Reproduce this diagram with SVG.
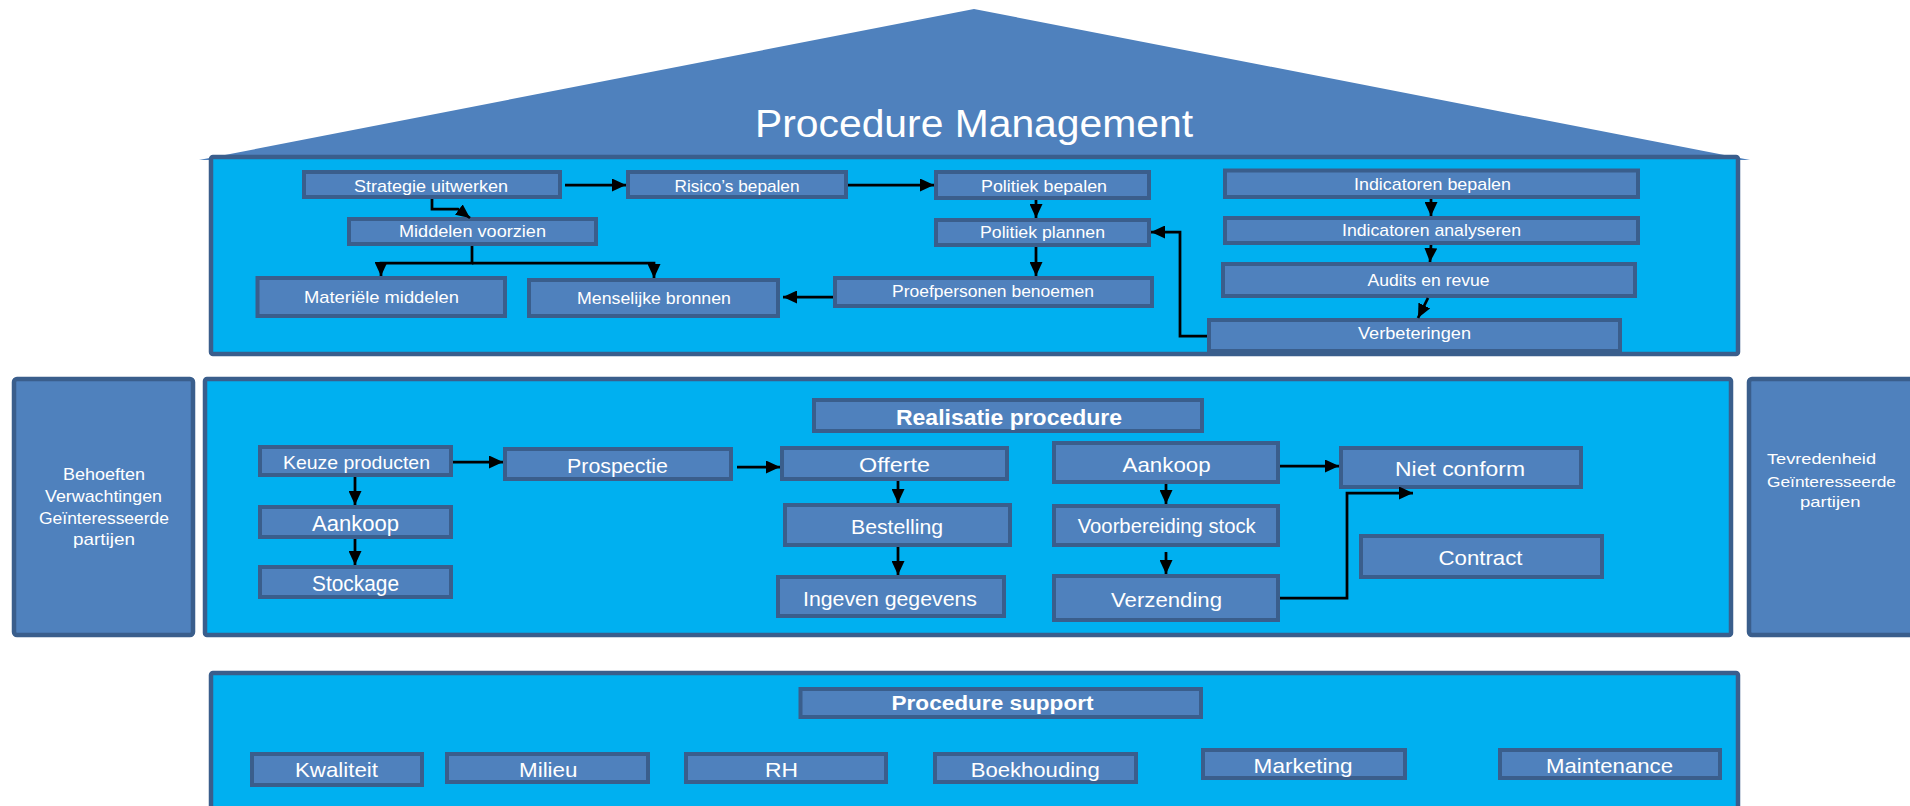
<svg xmlns="http://www.w3.org/2000/svg" width="1910" height="806" viewBox="0 0 1910 806">
<style>
.cont{fill:#00B0F0;stroke:#3A5E8C;stroke-width:4.5}
.side{fill:#4F81BD;stroke:#3A5E8C;stroke-width:4.5}
.n{fill:#4F81BD;stroke:#3A5E8C;stroke-width:4}
text{font-family:"Liberation Sans",Arial,sans-serif;fill:#FFFFFF}
.t17{font-size:17px}
.t21{font-size:21px}
.b{font-weight:bold}
.c{fill:none;stroke:#000;stroke-width:2.75}
</style>
<defs>
<marker id="ah" markerUnits="userSpaceOnUse" markerWidth="14" markerHeight="13" refX="14" refY="6.5" orient="auto"><path d="M0,0 L14,6.5 L0,13 z" fill="#000"/></marker>
</defs>
<rect width="1910" height="806" fill="#FFFFFF"/>
<g id="roof">
<polygon points="199,160 974,9 1750,160" fill="#4F81BD"/>
</g>
<g id="management">
<rect class="cont" x="211" y="157" width="1527" height="197" rx="2"/>
<text x="755" y="137" style="font-size:38px" textLength="438" lengthAdjust="spacingAndGlyphs">Procedure Management</text>
</g>
<g id="behoeften">
<rect class="side" x="14" y="379" width="179" height="256" rx="3"/>
<text class="t17" x="63" y="480" textLength="82" lengthAdjust="spacingAndGlyphs">Behoeften</text>
<text class="t17" x="45" y="501.7" textLength="117" lengthAdjust="spacingAndGlyphs">Verwachtingen</text>
<text class="t17" x="39" y="524" textLength="130" lengthAdjust="spacingAndGlyphs">Geïnteresseerde</text>
<text class="t17" x="73" y="545" textLength="62" lengthAdjust="spacingAndGlyphs">partijen</text>
</g>
<g id="realisatie">
<rect class="cont" x="205" y="379" width="1526" height="256" rx="2"/>
</g>
<g id="tevredenheid">
<rect class="side" x="1749" y="379" width="170" height="256" rx="3"/>
<text x="1767" y="464" style="font-size:15.5px" textLength="109" lengthAdjust="spacingAndGlyphs">Tevredenheid</text>
<text x="1767" y="487" style="font-size:15.5px" textLength="129" lengthAdjust="spacingAndGlyphs">Geïnteresseerde</text>
<text x="1800" y="507" style="font-size:15.5px" textLength="60.5" lengthAdjust="spacingAndGlyphs">partijen</text>
</g>
<g id="support">
<rect class="cont" x="211" y="673" width="1527" height="150" rx="2"/>
</g>

<g id="strategie"><rect class="n" x="304" y="172" width="256" height="25"/><text class="t17" x="354" y="191.5" textLength="154" lengthAdjust="spacingAndGlyphs">Strategie uitwerken</text></g>
<g id="risico"><rect class="n" x="628" y="172" width="218" height="25"/><text class="t17" x="674.5" y="191.5" textLength="125" lengthAdjust="spacingAndGlyphs">Risico’s bepalen</text></g>
<g id="politiek-bepalen"><rect class="n" x="936" y="172" width="213" height="26"/><text class="t17" x="981" y="191.7" textLength="126" lengthAdjust="spacingAndGlyphs">Politiek bepalen</text></g>
<g id="indicatoren-bepalen"><rect class="n" x="1225" y="170.5" width="413" height="26.5"/><text class="t17" x="1354" y="190" textLength="157" lengthAdjust="spacingAndGlyphs">Indicatoren bepalen</text></g>
<g id="middelen"><rect class="n" x="349" y="219" width="247" height="25"/><text class="t17" x="399" y="237" textLength="147" lengthAdjust="spacingAndGlyphs">Middelen voorzien</text></g>
<g id="politiek-plannen"><rect class="n" x="936" y="220" width="213" height="25"/><text class="t17" x="980" y="238" textLength="125" lengthAdjust="spacingAndGlyphs">Politiek plannen</text></g>
<g id="indicatoren-analyseren"><rect class="n" x="1225" y="218" width="413" height="25"/><text class="t17" x="1342" y="236" textLength="179" lengthAdjust="spacingAndGlyphs">Indicatoren analyseren</text></g>
<g id="materiele"><rect class="n" x="257.5" y="278" width="247.5" height="38"/><text class="t17" x="304" y="302.7" textLength="155" lengthAdjust="spacingAndGlyphs">Materiële middelen</text></g>
<g id="menselijke"><rect class="n" x="529" y="280" width="249" height="36"/><text class="t17" x="577" y="304" textLength="154" lengthAdjust="spacingAndGlyphs">Menselijke bronnen</text></g>
<g id="proefpersonen"><rect class="n" x="835" y="278" width="317" height="28"/><text class="t17" x="892" y="297" textLength="202" lengthAdjust="spacingAndGlyphs">Proefpersonen benoemen</text></g>
<g id="audits"><rect class="n" x="1223" y="264" width="412" height="32"/><text class="t17" x="1367.6" y="285.7" textLength="122" lengthAdjust="spacingAndGlyphs">Audits en revue</text></g>
<g id="verbeteringen"><rect class="n" x="1209" y="320" width="411" height="31"/><text class="t17" x="1358" y="339" textLength="113" lengthAdjust="spacingAndGlyphs">Verbeteringen</text></g>

<g id="realisatie-header"><rect class="n" x="814" y="400" width="388" height="31"/><text class="b" style="font-size:22px" x="896" y="425" textLength="226" lengthAdjust="spacingAndGlyphs">Realisatie procedure</text></g>
<g id="keuze"><rect class="n" x="260" y="447" width="191" height="28"/><text style="font-size:18.5px" x="283" y="469" textLength="147" lengthAdjust="spacingAndGlyphs">Keuze producten</text></g>
<g id="aankoop-l"><rect class="n" x="260" y="507" width="191" height="30"/><text style="font-size:22px" x="312" y="531" textLength="87" lengthAdjust="spacingAndGlyphs">Aankoop</text></g>
<g id="stockage"><rect class="n" x="260" y="567" width="191" height="30"/><text style="font-size:22px" x="312" y="591" textLength="87" lengthAdjust="spacingAndGlyphs">Stockage</text></g>
<g id="prospectie"><rect class="n" x="505" y="449" width="226" height="30"/><text class="t21" x="567" y="473" textLength="101" lengthAdjust="spacingAndGlyphs">Prospectie</text></g>
<g id="offerte"><rect class="n" x="782" y="448" width="225" height="31"/><text class="t21" x="859" y="472" textLength="71" lengthAdjust="spacingAndGlyphs">Offerte</text></g>
<g id="bestelling"><rect class="n" x="785" y="505" width="225" height="40"/><text class="t21" x="851" y="534" textLength="92" lengthAdjust="spacingAndGlyphs">Bestelling</text></g>
<g id="ingeven"><rect class="n" x="778" y="577" width="226" height="39"/><text class="t21" x="803" y="606" textLength="174" lengthAdjust="spacingAndGlyphs">Ingeven gegevens</text></g>
<g id="aankoop-r"><rect class="n" x="1054" y="443" width="224" height="39"/><text class="t21" x="1122.6" y="471.7" textLength="88" lengthAdjust="spacingAndGlyphs">Aankoop</text></g>
<g id="voorbereiding"><rect class="n" x="1054" y="506" width="224" height="39"/><text style="font-size:19.5px" x="1077.7" y="533" textLength="178" lengthAdjust="spacingAndGlyphs">Voorbereiding stock</text></g>
<g id="verzending"><rect class="n" x="1054" y="576" width="224" height="44"/><text style="font-size:20.5px" x="1111" y="607" textLength="111" lengthAdjust="spacingAndGlyphs">Verzending</text></g>
<g id="niet-conform"><rect class="n" x="1341" y="448" width="240" height="39"/><text class="t21" x="1395" y="476" textLength="130" lengthAdjust="spacingAndGlyphs">Niet conform</text></g>
<g id="contract"><rect class="n" x="1361" y="536" width="241" height="41"/><text class="t21" x="1438.5" y="565" textLength="84" lengthAdjust="spacingAndGlyphs">Contract</text></g>

<g id="support-header"><rect class="n" x="800.5" y="689" width="400.5" height="28"/><text class="b" style="font-size:20px" x="891.5" y="710" textLength="202" lengthAdjust="spacingAndGlyphs">Procedure support</text></g>
<g id="kwaliteit"><rect class="n" x="252" y="754" width="170" height="31"/><text class="t21" x="295" y="777" textLength="83" lengthAdjust="spacingAndGlyphs">Kwaliteit</text></g>
<g id="milieu"><rect class="n" x="447" y="754" width="201" height="28"/><text class="t21" x="519" y="777" textLength="58.5" lengthAdjust="spacingAndGlyphs">Milieu</text></g>
<g id="rh"><rect class="n" x="686" y="754" width="200" height="28"/><text class="t21" x="765" y="777" textLength="33" lengthAdjust="spacingAndGlyphs">RH</text></g>
<g id="boekhouding"><rect class="n" x="935" y="754" width="201" height="28"/><text class="t21" x="970.7" y="777" textLength="129" lengthAdjust="spacingAndGlyphs">Boekhouding</text></g>
<g id="marketing"><rect class="n" x="1203" y="750" width="202" height="28"/><text class="t21" x="1253.6" y="772.7" textLength="99" lengthAdjust="spacingAndGlyphs">Marketing</text></g>
<g id="maintenance"><rect class="n" x="1500" y="750" width="220" height="28"/><text class="t21" x="1546" y="772.7" textLength="127" lengthAdjust="spacingAndGlyphs">Maintenance</text></g>

<g id="connectors">
<path class="c" marker-end="url(#ah)" d="M565,185 H626"/>
<path class="c" marker-end="url(#ah)" d="M848,185 H934"/>
<path class="c" marker-end="url(#ah)" d="M1036,200 V218"/>
<path class="c" marker-end="url(#ah)" d="M1036,247 V276"/>
<path class="c" marker-end="url(#ah)" d="M833,297 H783"/>
<path class="c" marker-end="url(#ah)" d="M1207,336 H1180 V232 H1151"/>
<path class="c" marker-end="url(#ah)" d="M432,199 V209 H458 L470,218"/>
<path class="c" marker-end="url(#ah)" d="M472,246 V263 H381 V276"/>
<path class="c" marker-end="url(#ah)" d="M472,263 H654 V278"/>
<path class="c" marker-end="url(#ah)" d="M1431,199 V216"/>
<path class="c" marker-end="url(#ah)" d="M1431,245 L1430,262"/>
<path class="c" marker-end="url(#ah)" d="M1428,298 L1418,318"/>
<path class="c" marker-end="url(#ah)" d="M355,477 V505"/>
<path class="c" marker-end="url(#ah)" d="M355,539 V565"/>
<path class="c" marker-end="url(#ah)" d="M453,462 H503"/>
<path class="c" marker-end="url(#ah)" d="M737,467 H780"/>
<path class="c" marker-end="url(#ah)" d="M898,481 V503"/>
<path class="c" marker-end="url(#ah)" d="M898,547 V575"/>
<path class="c" marker-end="url(#ah)" d="M1280,466 H1339"/>
<path class="c" marker-end="url(#ah)" d="M1166,484 V504"/>
<path class="c" marker-end="url(#ah)" d="M1166,552 V574"/>
<path class="c" marker-end="url(#ah)" d="M1280,598 H1347 V493 H1413"/>
</g>
</svg>
